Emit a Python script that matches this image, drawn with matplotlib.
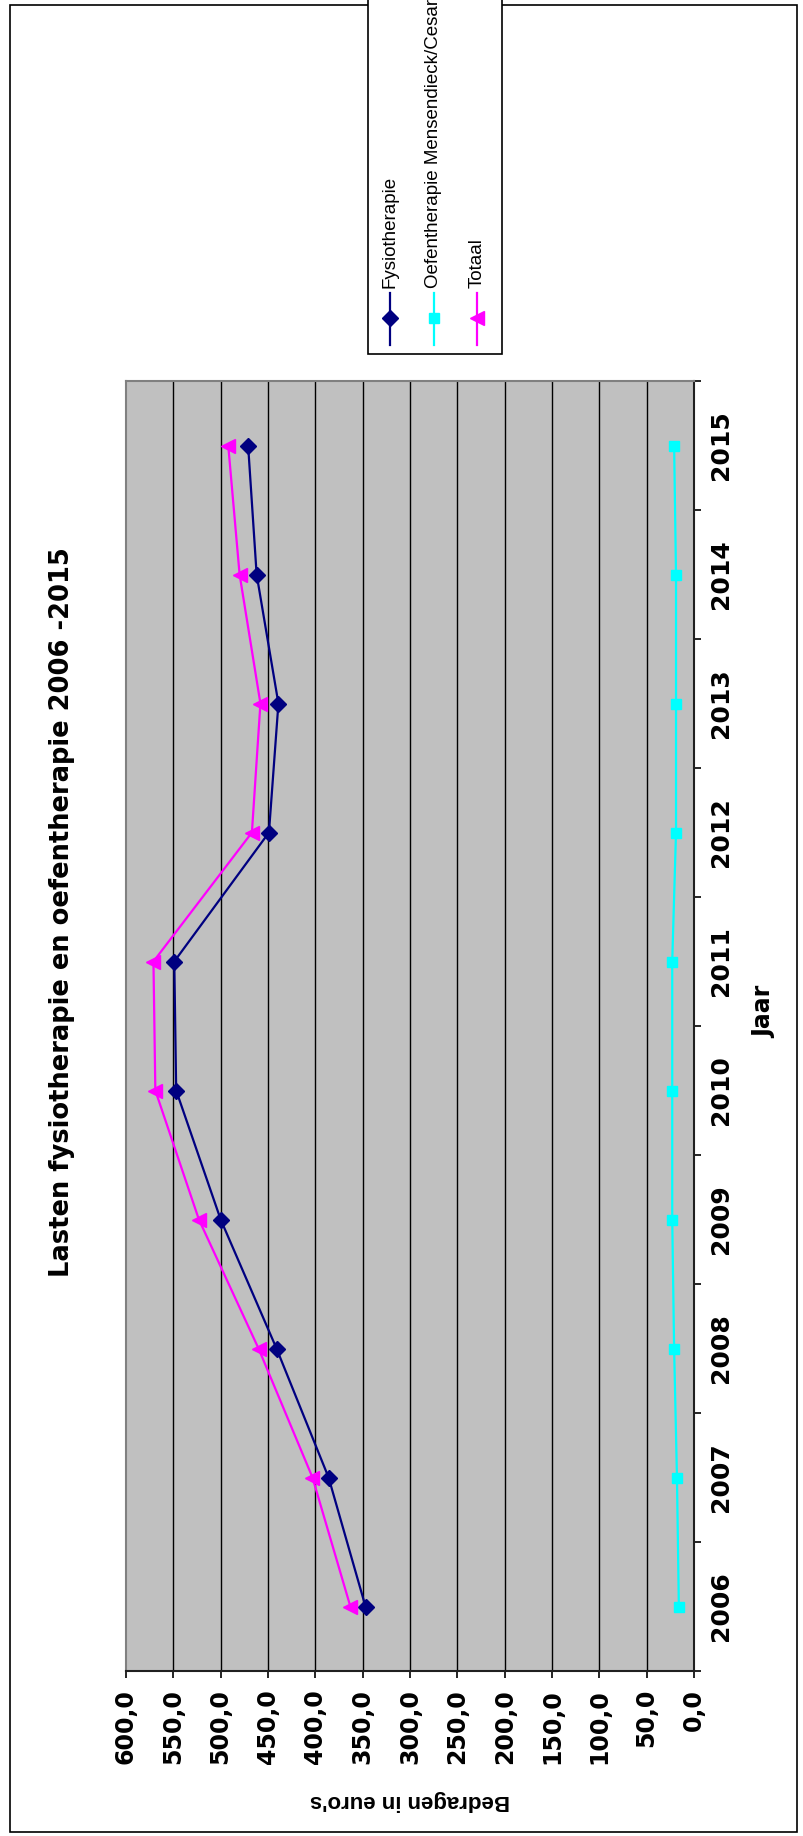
import matplotlib
matplotlib.use('Agg')
import matplotlib.pyplot as plt
from matplotlib.lines import Line2D
from matplotlib.patches import Rectangle
import numpy as np

# ---------------- data ----------------
years = ['2006', '2007', '2008', '2009', '2010', '2011', '2012', '2013', '2014', '2015']
fysio = [347, 386, 441, 500, 547, 549, 449, 439, 462, 471]
oefen = [16, 18, 21, 23, 23, 23, 19, 19, 19, 21]
totaal = [363, 403, 460, 523, 569, 571, 467, 458, 480, 492]
value_ticks = [0, 50, 100, 150, 200, 250, 300, 350, 400, 450, 500, 550, 600]
series_names = ['Fysiotherapie', 'Oefentherapie Mensendieck/Cesar', 'Totaal']
title = 'Lasten fysiotherapie en oefentherapie 2006 -2015'
xlabel = 'Jaar'
ylabel = "Bedragen in euro's"

# ---------------- layout ----------------
W, H = 804, 1836
fig = plt.figure(figsize=(W / 100, H / 100), dpi=100)
fig.patch.set_facecolor('white')


def fx(px):
    return px / W


def fy(py):
    return 1 - py / H


# outer chart border
fig.add_artist(Rectangle((fx(10), fy(1832)), fx(797) - fx(10), fy(5) - fy(1832),
                         transform=fig.transFigure, fill=False, ec='black', lw=1.2))

ax = fig.add_axes([fx(126), fy(1671), fx(694) - fx(126), fy(381) - fy(1671)])
ax.set_facecolor('#C0C0C0')

pos = np.arange(len(years))
colors = ['#000080', '#00FFFF', '#FF00FF']
markers = ['D', 's', '<']
msizes = [8, 7, 10]
for vals, c, m, ms in zip([fysio, oefen, totaal], colors, markers, msizes):
    ax.plot(vals, pos, color=c, marker=m, ms=ms, lw=1.6, zorder=3)

ax.set_xlim(600, 0)
ax.set_ylim(-0.5, len(years) - 0.5)

for v in value_ticks[1:-1]:
    ax.axvline(v, color='black', lw=1.0, zorder=1)

ax.set_xticks(value_ticks)
ax.set_xticklabels([f'{v},0' for v in value_ticks], rotation=90, va='top', ha='center',
                   fontweight='bold', fontsize=17, family='DejaVu Sans')
ax.tick_params(axis='x', direction='out', length=5, width=1.2, pad=8, color='black')

ax.yaxis.tick_right()
ax.set_yticks(pos)
ax.set_yticklabels(years, rotation=90, va='center', ha='left',
                   fontweight='bold', fontsize=18, family='DejaVu Sans')
ax.tick_params(axis='y', which='major', length=0, pad=11)
ax.set_yticks(np.arange(-0.5, len(years), 1), minor=True)
ax.tick_params(axis='y', which='minor', direction='out', length=5, width=1.2,
               right=True, left=False, color='black')

for s in ['top', 'left']:
    ax.spines[s].set_color('#808080')
    ax.spines[s].set_linewidth(1.5)
for s in ['bottom', 'right']:
    ax.spines[s].set_color('#202020')
    ax.spines[s].set_linewidth(1.5)

# axis titles and chart title
fig.text(fx(410), fy(1800), ylabel, rotation=180, ha='center', va='center',
         fontsize=16, fontweight='bold', family='Liberation Sans')
fig.text(fx(764), fy(1012), xlabel, rotation=90, ha='center', va='center',
         fontsize=17, fontweight='bold', family='DejaVu Sans')
fig.text(fx(62), fy(912), title, rotation=90, ha='center', va='center',
         fontsize=18.5, fontweight='bold', family='DejaVu Sans')

# legend (drawn manually because it is rotated)
fig.add_artist(Rectangle((fx(368), fy(354)), fx(502) - fx(368), fy(-10) - fy(354),
                         transform=fig.transFigure, fill=True, fc='white', ec='black', lw=1.2))
leg_x = [390, 434, 477]
for name, c, m, ms, lx in zip(series_names, colors, markers, msizes, leg_x):
    fig.add_artist(Line2D([fx(lx), fx(lx)], [fy(345), fy(293)], transform=fig.transFigure,
                          color=c, lw=1.6))
    fig.add_artist(Line2D([fx(lx)], [fy(318)], transform=fig.transFigure, color=c,
                          marker=m, ms=ms, lw=0))
    fig.text(fx(lx), fy(288), name, rotation=90, ha='center', va='bottom',
             fontsize=13.5, family='Liberation Sans')

fig.savefig('out.png', dpi=100)
